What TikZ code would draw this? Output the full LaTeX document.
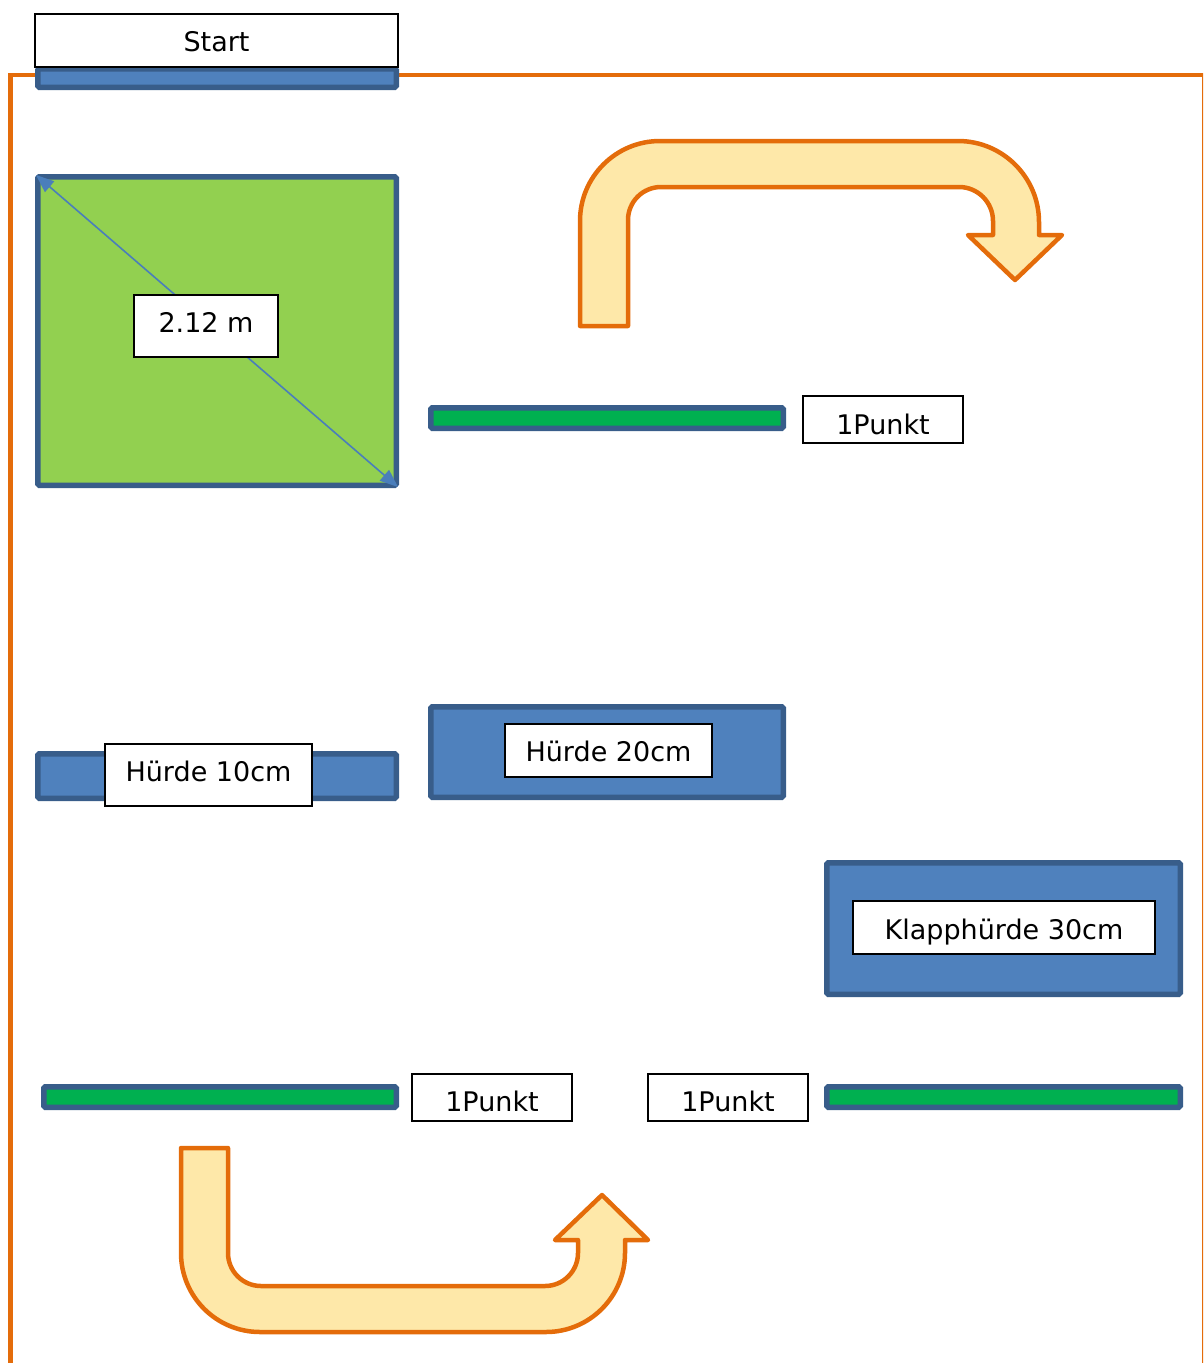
\documentclass[tikz,border=0pt]{standalone}
\usepackage{fontspec}
\setmainfont{DejaVu Sans}
\usetikzlibrary{arrows.meta}
\definecolor{frameorange}{HTML}{E46C0A}
\definecolor{arrowfill}{HTML}{FEE8A9}
\definecolor{hblue}{HTML}{4F81BD}
\definecolor{hborder}{HTML}{385D8A}
\definecolor{matgreen}{HTML}{92D050}
\definecolor{bargreen}{HTML}{00B050}
\definecolor{dimblue}{HTML}{4A7EBB}
\tikzset{
  bluebox/.style={draw=hborder, fill=hblue, line width=5.5pt, rounded corners=1.5pt, inner sep=0pt, minimum width=#1},
  greenbar/.style={draw=hborder, fill=bargreen, line width=5.5pt, rounded corners=1.5pt, inner sep=0pt, minimum width=#1, minimum height=20.5pt},
  matbox/.style={draw=hborder, fill=matgreen, line width=5.5pt, rounded corners=1.5pt, inner sep=0pt},
  labelbox/.style={draw=black, fill=white, line width=1.4pt, inner sep=0pt, font=\fontsize{27}{32}\selectfont, text height=19.7pt, text depth=0pt},
  textlow/.style={text height=19.7pt+2*#1, text depth=0pt},
  bentarrow/.style={draw=frameorange, fill=arrowfill, line width=4.5pt, line join=round},
}
\begin{document}
\begin{tikzpicture}[x=1pt,y=-1pt]
\useasboundingbox (0,0) rectangle (1203,1363);
\clip (0,0) rectangle (1203,1363);
% outer orange frame
\draw[frameorange, line width=4.5pt] (10.5,75) rectangle (1204,1380);

% start
\node[bluebox=358.5pt, minimum height=18.5pt] (startbar) at (217,78) {};
\node[labelbox, textlow=1.5pt, minimum width=363pt, minimum height=53pt] (start) at (216.5,40.5) {Start};

% mat with diagonal
\node[matbox, minimum width=358.5pt, minimum height=308.5pt] (mat) at (217,331) {};
\draw[dimblue, line width=1.6pt, {Triangle[length=18pt,width=14pt]}-{Triangle[length=18pt,width=14pt]}]
  ([shift={(1pt,-1pt)}]mat.north west) -- ([shift={(-1pt,1pt)}]mat.south east);
\node[labelbox, textlow=-3pt, minimum width=144pt, minimum height=62pt] (dim) at (206,326) {2.12 m};

% top bent arrow
\draw[bentarrow] (580,326) -- (580,221) arc[start angle=180,end angle=90,radius=80pt]
  -- (958,141) arc[start angle=90,end angle=0,radius=81pt]
  -- (1039,235) -- (1062,235) -- (1015,280) -- (968,235) -- (993,235) -- (993,221)
  arc[start angle=0,end angle=90,radius=34pt]
  -- (661,187) arc[start angle=90,end angle=180,radius=33pt]
  -- (628,326) -- cycle;

% first green bar
\node[greenbar=352.5pt] (bar1) at (607,418) {};
\node[labelbox, textlow=5.5pt, minimum width=160pt, minimum height=47pt] (p1) at (883,419.5) {1Punkt};

% hurdles
\node[bluebox=358.5pt, minimum height=44.5pt] (h10) at (217,776) {};
\node[labelbox, textlow=-3.5pt, minimum width=207pt, minimum height=62pt] (h10l) at (208.5,775) {Hürde 10cm};
\node[bluebox=352.5pt, minimum height=90.5pt] (h20) at (607,752) {};
\node[labelbox, textlow=1.5pt, minimum width=207pt, minimum height=53pt] (h20l) at (608.5,750.5) {Hürde 20cm};
\node[bluebox=353.5pt, minimum height=131.5pt] (h30) at (1003.5,928.5) {};
\node[labelbox, textlow=2.5pt, minimum width=302pt, minimum height=53pt] (h30l) at (1004,927.5) {Klapphürde 30cm};

% bottom green bars
\node[greenbar=352.5pt] (bar2) at (220,1097) {};
\node[labelbox, textlow=4.5pt, minimum width=160pt, minimum height=47pt] (p2) at (492,1097.5) {1Punkt};
\node[labelbox, textlow=4.5pt, minimum width=160pt, minimum height=47pt] (p3) at (728,1097.5) {1Punkt};
\node[greenbar=353.5pt] (bar3) at (1003.5,1097) {};

% bottom bent arrow
\draw[bentarrow] (181,1148) -- (181,1253) arc[start angle=180,end angle=270,radius=79pt]
  -- (546,1332) arc[start angle=270,end angle=360,radius=79pt]
  -- (625,1240) -- (648,1240) -- (602,1195) -- (555,1240) -- (578,1240) -- (578,1253)
  arc[start angle=0,end angle=-90,radius=33pt]
  -- (261,1286) arc[start angle=270,end angle=180,radius=33pt]
  -- (228,1148) -- cycle;
\end{tikzpicture}
\end{document}
